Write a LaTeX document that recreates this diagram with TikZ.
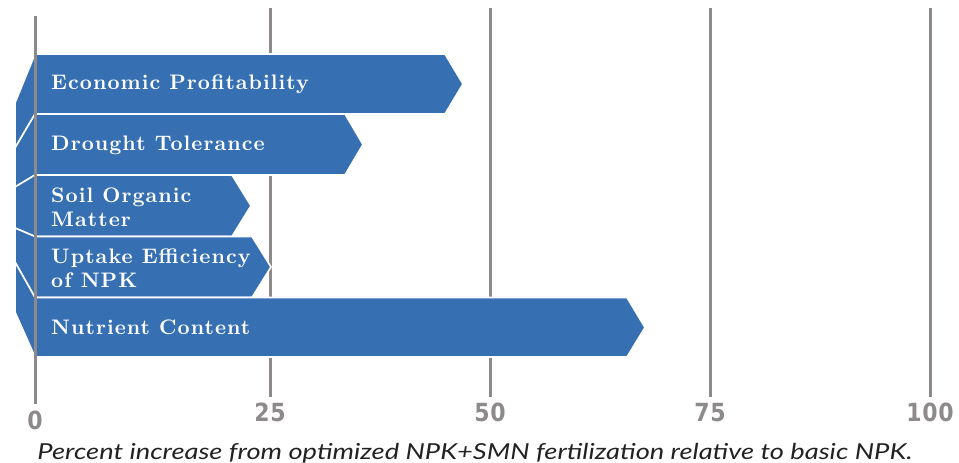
\documentclass[tikz,border=0pt]{standalone}
\usepackage{fontspec}
\newfontfamily\barfont[Extension=.otf, UprightFont=lmroman10-regular, BoldFont=lmroman10-bold, LetterSpace=5]{lmroman10-regular}
\newfontfamily\numfont[LetterSpace=3, FakeStretch=0.88]{DejaVu Sans}
\newfontfamily\capfont[FakeStretch=1.24]{Lato}
\definecolor{barblue}{RGB}{54,112,178}
\definecolor{gridgray}{RGB}{142,138,140}
\definecolor{captext}{RGB}{34,34,34}
\tikzset{
  gridline/.style={draw=gridgray, line width=3pt},
  barshape/.style={fill=barblue, draw=white, line width=1.6pt, line join=miter},
  barlabel/.style={anchor=west, text=white, inner sep=0pt, align=left,
    font=\barfont\fontsize{21}{24}\selectfont\bfseries},
  ticklabel/.style={text=gridgray, inner sep=0pt, anchor=base,
    font=\numfont\fontsize{25}{25}\selectfont\bfseries},
  caption/.style={text=captext, inner sep=0pt, anchor=base,
    font=\capfont\fontsize{22}{22}\selectfont\itshape}
}
\begin{document}
\begin{tikzpicture}[x=1pt,y=-1pt]
\useasboundingbox (0,0) rectangle (959,463);
% grid lines behind bars
\coordinate (g25t) at (270,8);  \coordinate (g25b) at (270,397);
\coordinate (g50t) at (490,8);  \coordinate (g50b) at (490,397);
\coordinate (g75t) at (710,8);  \coordinate (g75b) at (710,397);
\coordinate (g100t) at (930,8); \coordinate (g100b) at (930,397);
\draw[gridline] (g25t) -- (g25b);
\draw[gridline] (g50t) -- (g50b);
\draw[gridline] (g75t) -- (g75b);
\draw[gridline] (g100t) -- (g100b);
% bars
\path[barshape] (15,103) -- (35,54) -- (445,54) -- (463,84) -- (445,114) -- (35,114) -- (15,148) -- cycle;
\path[barshape] (15,148) -- (35,114) -- (345,114) -- (363,144.5) -- (345,175) -- (35,175) -- (15,187) -- cycle;
\path[barshape] (15,187) -- (35,175) -- (232,175) -- (251,205.75) -- (232,236.5) -- (35,236.5) -- (15,228) -- cycle;
\path[barshape] (15,228) -- (35,236.5) -- (252,236.5) -- (271,267) -- (252,297.5) -- (35,297.5) -- (15,262) -- cycle;
\path[barshape] (15,262) -- (35,297.5) -- (627,297.5) -- (645,327.5) -- (627,357) -- (35,357) -- (15,312) -- cycle;
% zero line on top
\coordinate (g0t) at (35,16); \coordinate (g0b) at (35,404);
\draw[gridline] (g0t) -- (g0b);
% bar labels
\node[barlabel] (l1) at (51,84) {Economic Profitability};
\node[barlabel] (l2) at (51,145) {Drought Tolerance};
\node[barlabel] (l3) at (51,207) {Soil Organic\\Matter};
\node[barlabel] (l4) at (51,268) {Uptake Efficiency\\of NPK};
\node[barlabel] (l5) at (51,327) {Nutrient Content};
% tick labels
\node[ticklabel] (t0) at (35,429) {0};
\node[ticklabel] (t25) at (270,421) {25};
\node[ticklabel] (t50) at (490,421) {50};
\node[ticklabel] (t75) at (710,421) {75};
\node[ticklabel] (t100) at (930,421) {100};
% caption
\node[caption] (cap) at (475,459) {Percent increase from optimized NPK+SMN fertilization relative to basic NPK.};
\end{tikzpicture}
\end{document}
